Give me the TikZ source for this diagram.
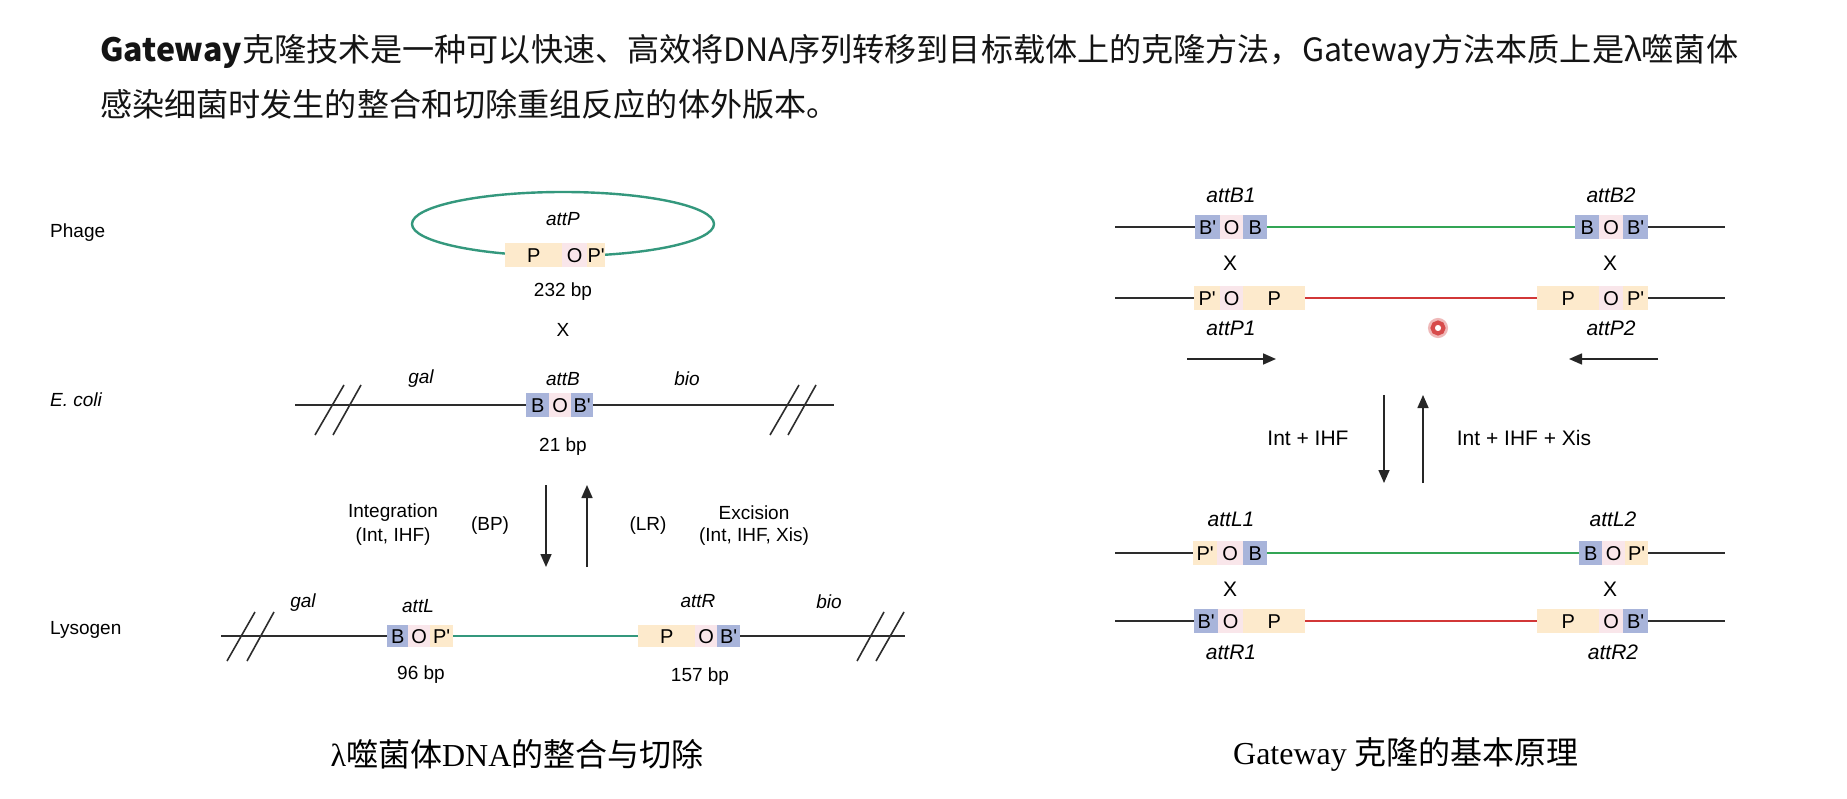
\documentclass[tikz,border=0pt]{standalone}
\usepackage{fontspec}
\usetikzlibrary{arrows.meta,shapes.geometric}
\newfontfamily\cjk{Noto Sans CJK SC}
\newfontfamily\arialf{Liberation Sans}
\newfontfamily\tnr{Liberation Serif}
\definecolor{cblue}{RGB}{168,180,218}
\definecolor{corange}{RGB}{253,234,204}
\definecolor{cpink}{RGB}{249,230,234}
\definecolor{cteal}{RGB}{52,152,125}
\definecolor{cgreen}{RGB}{50,165,85}
\definecolor{cred}{RGB}{210,55,55}
\definecolor{cline}{RGB}{45,45,45}
\tikzset{
 seg/.style={anchor=west, inner sep=0pt, minimum height=24pt, text height=14.3pt, text depth=0pt, font=\arialf\fontsize{20}{20}\selectfont},
 lseg/.style={seg, minimum height=22pt},
 lab/.style={font=\arialf\fontsize{19}{19}\selectfont, inner sep=0pt},
 ilab/.style={font=\arialf\itshape\fontsize{19}{19}\selectfont, inner sep=0pt},
 rlab/.style={font=\arialf\fontsize{21}{21}\selectfont, inner sep=0pt},
 rilab/.style={font=\arialf\itshape\fontsize{21}{21}\selectfont, inner sep=0pt},
 dna/.style={draw=cline, line width=1.6pt},
 tealline/.style={draw=cteal, line width=2.4pt},
 greenline/.style={draw=cgreen, line width=2.2pt},
 redline/.style={draw=cred, line width=2.2pt},
 arr/.style={draw=black!85, line width=1.6pt, -{Triangle[length=13pt,width=11pt]}},
 head/.style={anchor=base west, inner sep=0pt, font=\cjk\fontsize{32.1}{32.1}\selectfont, text=black!92},
 captext/.style={inner sep=0pt, font=\fontsize{32}{32}\selectfont},
}
\begin{document}
\begin{tikzpicture}[x=1pt,y=-1pt]
\useasboundingbox[fill=white] (0,0) rectangle (1847,799);
% ---------- header ----------
\node[head] (h1) at (100,62) {\textbf{Gateway}克隆技术是一种可以快速、高效将DNA序列转移到目标载体上的克隆方法，Gateway方法本质上是λ噬菌体};
\node[head] (h2) at (100,117) {感染细菌时发生的整合和切除重组反应的体外版本。};

% ---------- left panel ----------
\node[lab, anchor=west] (phage) at (50,233) {Phage};
\node[ilab, anchor=west] (ecoli) at (50,400) {E. coli};
\node[lab, anchor=west] (lyso) at (50,630) {Lysogen};

% phage ring
\node[draw=cteal, line width=2.4pt, ellipse, minimum width=302pt, minimum height=64pt, inner sep=0pt] (ring) at (563,224) {};
\node[ilab] (attP) at (563,219) {attP};
\node[seg, fill=corange, minimum width=57pt] (pP) at (505,255) {P};
\node[seg, fill=cpink, minimum width=25pt] (pO) at (562,255) {O};
\node[seg, fill=corange, minimum width=18pt] (pPp) at (587,255) {P'};
\node[lab] (bp232) at (563,292) {232 bp};
\node[lab] (x0) at (563,330) {X};

% E. coli chromosome
\coordinate (eL) at (295,405);
\coordinate (eR) at (834,405);
\draw[dna] (eL) -- (eR);
\draw[dna] (315,435) -- (344,385) (333,435) -- (361,385);
\draw[dna] (770,435) -- (799,385) (788,435) -- (816,385);
\node[ilab] (gal1) at (421,379) {gal};
\node[ilab] (attB) at (563,379) {attB};
\node[ilab] (bio1) at (687,379) {bio};
\node[seg, fill=cblue, minimum width=23pt] (eB) at (526,405) {B};
\node[seg, fill=cpink, minimum width=22pt] (eO) at (549,405) {O};
\node[seg, fill=cblue, minimum width=22pt] (eBp) at (571,405) {B'};
\node[lab] (bp21) at (563,447) {21 bp};

% reaction arrows
\coordinate (d1) at (546,485); \coordinate (d2) at (546,567);
\coordinate (u1) at (587,567); \coordinate (u2) at (587,485);
\draw[arr] (d1) -- (d2);
\draw[arr] (u1) -- (u2);
\node[lab] (integ) at (393,513) {Integration};
\node[lab] (integ2) at (393,537) {(Int, IHF)};
\node[lab] (bpr) at (490,526) {(BP)};
\node[lab] (lrr) at (648,526) {(LR)};
\node[lab] (excis) at (754,513) {Excision};
\node[lab] (excis2) at (754,537) {(Int, IHF, Xis)};

% Lysogen
\coordinate (lL) at (221,636);
\coordinate (lR) at (905,636);
\draw[dna] (lL) -- (lR);
\draw[dna] (227,661) -- (255,612) (247,661) -- (274,612);
\draw[dna] (857,661) -- (884,612) (876,661) -- (904,612);
\node[ilab] (gal2) at (303,603) {gal};
\node[ilab] (attL) at (418,606) {attL};
\node[ilab] (attR) at (698,601) {attR};
\node[ilab] (bio2) at (829,602) {bio};
\node[lseg, fill=cblue, minimum width=21pt] (lB) at (387,636) {B};
\node[lseg, fill=cpink, minimum width=22pt] (lO) at (408,636) {O};
\node[lseg, fill=corange, minimum width=23pt] (lPp) at (430,636) {P'};
\node[lseg, fill=corange, minimum width=57pt] (rP) at (638,636) {P};
\node[lseg, fill=cpink, minimum width=22pt] (rO) at (695,636) {O};
\node[lseg, fill=cblue, minimum width=23pt] (rBp) at (717,636) {B'};
\draw[tealline] (lPp.east) -- (rP.west);
\node[lab] (bp96) at (421,675) {96 bp};
\node[lab] (bp157) at (700,677) {157 bp};

\node[captext] (capL) at (517,754) {{\tnr λ}{\cjk 噬菌体}{\tnr DNA}{\cjk 的整合与切除}};

% ---------- right panel ----------
% row attB
\coordinate (r1L) at (1115,227); \coordinate (r1R) at (1725,227);
\draw[dna] (r1L) -- (r1R);
\node[seg, fill=cblue, minimum width=25pt] (aBp) at (1195,227) {B'};
\node[seg, fill=cpink, minimum width=23pt] (aO) at (1220,227) {O};
\node[seg, fill=cblue, minimum width=24pt] (aB) at (1243,227) {B};
\node[seg, fill=cblue, minimum width=24pt] (bB) at (1575,227) {B};
\node[seg, fill=cpink, minimum width=24pt] (bO) at (1599,227) {O};
\node[seg, fill=cblue, minimum width=25pt] (bBp) at (1623,227) {B'};
\draw[greenline] (aB.east) -- (bB.west);
\node[rilab] (attB1) at (1231,195) {attB1};
\node[rilab] (attB2) at (1611,195) {attB2};
\node[rlab] (x1) at (1230,263) {X};
\node[rlab] (x2) at (1610,263) {X};

% row attP
\coordinate (r2L) at (1115,298); \coordinate (r2R) at (1725,298);
\draw[dna] (r2L) -- (r2R);
\node[seg, fill=corange, minimum width=26pt] (cPp) at (1194,298) {P'};
\node[seg, fill=cpink, minimum width=23pt] (cO) at (1220,298) {O};
\node[seg, fill=corange, minimum width=62pt] (cP) at (1243,298) {P};
\node[seg, fill=corange, minimum width=62pt] (dP) at (1537,298) {P};
\node[seg, fill=cpink, minimum width=24pt] (dO) at (1599,298) {O};
\node[seg, fill=corange, minimum width=25pt] (dPp) at (1623,298) {P'};
\draw[redline] (cP.east) -- (dP.west);
\node[rilab] (attP1) at (1231,328) {attP1};
\node[rilab] (attP2) at (1611,328) {attP2};
\node[circle, draw=cred!35, line width=7pt, minimum size=13pt, inner sep=0pt] (dothalo) at (1438,328) {};
\node[circle, draw=cred!90, line width=4pt, minimum size=11pt, inner sep=0pt] (dot) at (1438,328) {};

% direction arrows
\coordinate (ra1) at (1187,359); \coordinate (ra2) at (1276,359);
\coordinate (la1) at (1658,359); \coordinate (la2) at (1569,359);
\draw[arr] (ra1) -- (ra2);
\draw[arr] (la1) -- (la2);

% reaction arrows
\coordinate (vd1) at (1384,395); \coordinate (vd2) at (1384,483);
\coordinate (vu1) at (1423,483); \coordinate (vu2) at (1423,395);
\draw[arr] (vd1) -- (vd2);
\draw[arr] (vu1) -- (vu2);
\node[rlab] (bpmix) at (1308,438) {Int + IHF};
\node[rlab] (lrmix) at (1524,438) {Int + IHF + Xis};

% row attL
\node[rilab] (attL1) at (1231,519) {attL1};
\node[rilab] (attL2) at (1613,519) {attL2};
\coordinate (r3L) at (1115,553); \coordinate (r3R) at (1725,553);
\draw[dna] (r3L) -- (r3R);
\node[seg, fill=corange, minimum width=24pt] (ePp) at (1193,553) {P'};
\node[seg, fill=cpink, minimum width=26pt] (eO2) at (1217,553) {O};
\node[seg, fill=cblue, minimum width=24pt] (eB2) at (1243,553) {B};
\node[seg, fill=cblue, minimum width=23pt] (fB) at (1579,553) {B};
\node[seg, fill=cpink, minimum width=23pt] (fO) at (1602,553) {O};
\node[seg, fill=corange, minimum width=23pt] (fPp) at (1625,553) {P'};
\draw[greenline] (eB2.east) -- (fB.west);
\node[rlab] (x3) at (1230,589) {X};
\node[rlab] (x4) at (1610,589) {X};

% row attR
\coordinate (r4L) at (1115,621); \coordinate (r4R) at (1725,621);
\draw[dna] (r4L) -- (r4R);
\node[seg, fill=cblue, minimum width=24pt] (gBp) at (1194,621) {B'};
\node[seg, fill=cpink, minimum width=25pt] (gO) at (1218,621) {O};
\node[seg, fill=corange, minimum width=62pt] (gP) at (1243,621) {P};
\node[seg, fill=corange, minimum width=62pt] (hP) at (1537,621) {P};
\node[seg, fill=cpink, minimum width=24pt] (hO) at (1599,621) {O};
\node[seg, fill=cblue, minimum width=25pt] (hBp) at (1623,621) {B'};
\draw[redline] (gP.east) -- (hP.west);
\node[rilab] (attR1) at (1231,652) {attR1};
\node[rilab] (attR2) at (1613,652) {attR2};

\node[captext] (capR) at (1406,754) {{\tnr Gateway }{\cjk 克隆的基本原理}};
\end{tikzpicture}
\end{document}
